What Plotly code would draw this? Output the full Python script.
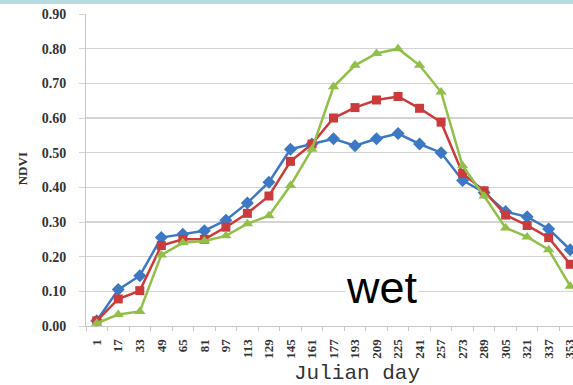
import plotly.graph_objects as go

days = [1, 17, 33, 49, 65, 81, 97, 113, 129, 145, 161, 177, 193, 209, 225, 241, 257, 273, 289, 305, 321, 337, 353]
blue = [0.015, 0.105, 0.145, 0.255, 0.265, 0.275, 0.305, 0.355, 0.415, 0.51, 0.525, 0.54, 0.52, 0.54, 0.555, 0.525, 0.50, 0.42, 0.385, 0.33, 0.315, 0.28, 0.22]
red = [0.015, 0.078, 0.102, 0.232, 0.25, 0.25, 0.285, 0.325, 0.375, 0.475, 0.525, 0.60, 0.63, 0.652, 0.662, 0.628, 0.588, 0.44, 0.39, 0.32, 0.29, 0.255, 0.178]
green = [0.008, 0.033, 0.042, 0.205, 0.24, 0.245, 0.26, 0.295, 0.318, 0.405, 0.51, 0.69, 0.752, 0.786, 0.80, 0.752, 0.675, 0.462, 0.375, 0.283, 0.257, 0.22, 0.115]
y_ticks = [0.0, 0.1, 0.2, 0.3, 0.4, 0.5, 0.6, 0.7, 0.8, 0.9]

idx = list(range(len(days)))
fig = go.Figure()
series = [
    (blue, "#3c78c3", "diamond", 10),
    (red, "#cc3b3b", "square", 9),
    (green, "#92bf4a", "triangle-up", 10),
]
for vals, col, sym, sz in series:
    fig.add_trace(go.Scatter(
        x=idx, y=vals, mode="lines+markers",
        line=dict(color=col, width=2.5),
        marker=dict(symbol=sym, size=sz, color=col),
        showlegend=False, cliponaxis=False, hoverinfo="skip",
    ))

fig.update_layout(
    width=573, height=385,
    margin=dict(l=86, r=0, t=14, b=59),
    paper_bgcolor="white", plot_bgcolor="white",
    xaxis=dict(
        automargin=False,
        range=[-0.5, 22.13], tickmode="array", tickvals=idx,
        ticktext=[str(d) for d in days], tickangle=-90,
        ticks="outside", ticklen=0, ticklabelstandoff=7,
        ticklabeloverflow="allow",
        tickfont=dict(family="Liberation Serif", size=13, color="#333", weight="bold"),
        showline=True, linecolor="#c8c8c8", linewidth=1,
        showgrid=False, zeroline=False,
        minor=dict(tickmode="linear", tick0=-0.5, dtick=1, ticks="outside",
                   ticklen=4, tickcolor="#c8c8c8", showgrid=False),
    ),
    yaxis=dict(
        automargin=False,
        range=[0, 0.9], tickmode="array", tickvals=y_ticks,
        ticktext=["%.2f" % v for v in y_ticks],
        ticks="outside", ticklen=6, tickcolor="#d4d4d4", ticklabelstandoff=10,
        tickfont=dict(family="Liberation Serif", size=14, color="#333", weight="bold"),
        showline=True, linecolor="#c8c8c8", linewidth=1,
        showgrid=True, gridcolor="#d4d4d4", gridwidth=1.6,
        zeroline=False,
    ),
    annotations=[
        dict(text="NDVI", xref="paper", yref="paper", x=-0.131, y=0.503,
             textangle=-90, showarrow=False, xanchor="center", yanchor="middle",
             font=dict(family="Liberation Serif", size=13, color="#333", weight="bold")),
        dict(text="Julian day", xref="paper", yref="paper", x=0.556, y=-0.151,
             showarrow=False, xanchor="center", yanchor="middle",
             font=dict(family="Liberation Mono", size=21, color="#333")),
        dict(text="wet", xref="paper", yref="paper", x=0.608, y=0.122,
             showarrow=False, xanchor="center", yanchor="middle",
             bgcolor="white", borderpad=0,
             font=dict(family="Liberation Sans", size=45, color="black")),
    ],
    shapes=[
        dict(type="rect", xref="paper", yref="paper",
             x0=-86 / 487, x1=1.0, y0=1 + 10 / 312, y1=1 + 14 / 312,
             fillcolor="#b5dde1", line=dict(width=0), layer="above"),
    ],
)

fig.write_html("out.html",
               config={"displayModeBar": False, "staticPlot": True},
               post_script="document.body.style.margin='0';document.body.style.overflow='hidden';")
